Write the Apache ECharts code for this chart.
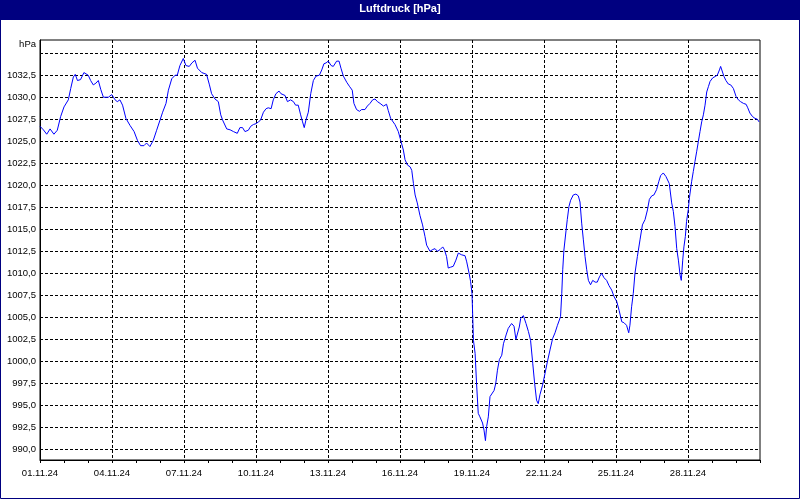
<!DOCTYPE html>
<html>
<head>
<meta charset="utf-8">
<title>Luftdruck [hPa]</title>
<script src="https://cdn.jsdelivr.net/npm/echarts@6/dist/echarts.min.js"></script>
<style>
    html, body { margin: 0; padding: 0; background: #fff; }
    #chart { width: 800px; height: 500px; }
</style>
</head>
<body>
<div id="chart"></div>
<script type="text/javascript">
// Zeitpunkt in Tagen ab 01.11.24 00:00
const days = [
    0.00, 0.14, 0.28, 0.42, 0.58, 0.72, 0.86, 1.00, 1.18, 1.28,
    1.39, 1.47, 1.56, 1.69, 1.83, 2.01, 2.11, 2.22, 2.33, 2.43,
    2.53, 2.64, 2.72, 2.85, 2.99, 3.13, 3.22, 3.33, 3.44, 3.58,
    3.75, 3.92, 4.06, 4.19, 4.33, 4.44, 4.58, 4.72, 4.86, 5.00,
    5.11, 5.25, 5.35, 5.49, 5.63, 5.72, 5.83, 5.97, 6.08, 6.22,
    6.33, 6.46, 6.56, 6.74, 6.94, 7.06, 7.15, 7.29, 7.43, 7.53,
    7.61, 7.78, 7.92, 8.06, 8.22, 8.33, 8.44, 8.54, 8.68, 8.78,
    8.89, 9.00, 9.10, 9.19, 9.31, 9.42, 9.51, 9.63, 9.72, 9.83,
    9.96, 10.04, 10.21, 10.31, 10.44, 10.56, 10.65, 10.76, 10.86, 10.94,
    11.01, 11.08, 11.18, 11.28, 11.39, 11.50, 11.64, 11.74, 11.83, 11.92,
    12.01, 12.13, 12.22, 12.29, 12.36, 12.46, 12.54, 12.64, 12.78, 12.89,
    13.01, 13.08, 13.19, 13.31, 13.40, 13.47, 13.54, 13.64, 13.75, 13.86,
    13.96, 14.06, 14.17, 14.31, 14.44, 14.51, 14.61, 14.79, 14.93, 15.03,
    15.14, 15.21, 15.31, 15.42, 15.49, 15.56, 15.63, 15.72, 15.83, 15.94,
    16.04, 16.11, 16.25, 16.36, 16.46, 16.56, 16.67, 16.78, 16.85, 16.94,
    17.01, 17.11, 17.22, 17.33, 17.43, 17.50, 17.57, 17.71, 17.78, 17.88,
    17.94, 18.00, 18.03, 18.06, 18.13, 18.19, 18.26, 18.33, 18.44, 18.50,
    18.56, 18.61, 18.68, 18.75, 18.82, 18.92, 18.99, 19.06, 19.14, 19.24,
    19.31, 19.42, 19.51, 19.58, 19.65, 19.75, 19.83, 19.89, 19.97, 20.03,
    20.14, 20.25, 20.35, 20.44, 20.53, 20.61, 20.69, 20.76, 20.83, 20.94,
    21.04, 21.14, 21.25, 21.36, 21.46, 21.56, 21.64, 21.69, 21.74, 21.78,
    21.83, 21.92, 21.97, 22.04, 22.11, 22.22, 22.33, 22.43, 22.50, 22.57,
    22.64, 22.71, 22.78, 22.85, 22.94, 23.03, 23.13, 23.22, 23.31, 23.40,
    23.50, 23.61, 23.71, 23.82, 23.92, 24.03, 24.13, 24.24, 24.33, 24.44,
    24.53, 24.58, 24.65, 24.72, 24.79, 24.89, 25.00, 25.10, 25.21, 25.31,
    25.39, 25.49, 25.58, 25.69, 25.78, 25.86, 25.97, 26.08, 26.22, 26.32,
    26.39, 26.46, 26.53, 26.60, 26.67, 26.72, 26.78, 26.83, 26.89, 26.94,
    27.01, 27.06, 27.15, 27.22, 27.29, 27.36, 27.43, 27.50, 27.57, 27.64,
    27.71, 27.78, 27.85, 27.92, 28.03, 28.13, 28.22, 28.31, 28.36, 28.44,
    28.50, 28.58, 28.68, 28.78, 28.89, 29.00, 29.10, 29.19, 29.31, 29.42,
    29.49, 29.58, 29.69, 29.79, 29.89, 29.96
];

const pressure = [
    1026.7, 1026.3, 1025.8, 1026.4, 1025.8, 1026.25, 1027.8, 1028.9, 1029.7, 1031.0,
    1032.3, 1032.6, 1031.9, 1032.0, 1032.8, 1032.5, 1031.9, 1031.4, 1031.6, 1031.9,
    1030.9, 1030.0, 1029.8, 1030.0, 1030.3, 1029.7, 1029.5, 1029.7, 1029.1, 1027.6,
    1026.8, 1026.1, 1025.1, 1024.5, 1024.5, 1024.8, 1024.4, 1025.1, 1026.25, 1027.4,
    1028.3, 1029.3, 1030.8, 1032.1, 1032.5, 1032.5, 1033.6, 1034.4, 1033.6, 1033.5,
    1033.9, 1034.2, 1033.3, 1032.8, 1032.6, 1031.4, 1030.4, 1029.8, 1029.5, 1028.0,
    1027.4, 1026.4, 1026.3, 1026.1, 1025.9, 1026.55, 1026.55, 1026.1, 1026.25, 1026.7,
    1026.9, 1027.0, 1027.2, 1027.4, 1028.3, 1028.7, 1028.8, 1028.7, 1029.7, 1030.4,
    1030.7, 1030.4, 1030.2, 1029.5, 1029.7, 1029.5, 1029.1, 1029.1, 1028.0, 1027.2,
    1026.55, 1027.4, 1028.3, 1030.4, 1031.9, 1032.4, 1032.5, 1033.1, 1033.8, 1033.9,
    1034.1, 1033.6, 1033.5, 1033.6, 1034.1, 1034.1, 1033.3, 1032.4, 1031.7, 1031.25,
    1030.8, 1029.3, 1028.6, 1028.4, 1028.6, 1028.8, 1028.6, 1029.0, 1029.3, 1029.7,
    1029.8, 1029.5, 1029.3, 1029.0, 1029.2, 1028.5, 1027.6, 1026.9, 1026.1, 1025.1,
    1024.0, 1022.9, 1022.3, 1022.1, 1021.7, 1020.2, 1018.9, 1018.0, 1016.6, 1015.5,
    1014.2, 1013.2, 1012.5, 1012.7, 1012.8, 1012.5, 1012.7, 1013.0, 1012.7, 1011.9,
    1010.6, 1010.7, 1010.8, 1011.5, 1012.3, 1012.5, 1012.1, 1012.0, 1011.3, 1010.0,
    1009.1, 1007.7, 1005.1, 1002.4, 1000.9, 997.5, 994.1, 993.7, 993.0, 992.2,
    991.0, 992.6, 993.7, 996.0, 996.2, 996.7, 997.5, 999.0, 1000.2, 1000.7,
    1002.0, 1003.0, 1003.75, 1003.6, 1004.3, 1004.0, 1002.5, 1002.4, 1003.9, 1004.9,
    1005.2, 1004.3, 1003.4, 1002.4, 999.8, 997.5, 995.6, 995.2, 996.2, 997.3,
    998.6, 999.95, 1001.3, 1002.6, 1003.25, 1004.1, 1004.7, 1005.1, 1007.7, 1010.4,
    1012.65, 1014.9, 1016.1, 1017.6, 1018.3, 1018.9, 1019.0, 1018.8, 1018.1, 1015.7,
    1013.8, 1011.9, 1010.4, 1009.2, 1008.7, 1009.2, 1009.0, 1009.0, 1009.6, 1010.0,
    1009.5, 1009.2, 1008.6, 1008.1, 1007.35, 1006.8, 1005.8, 1004.5, 1004.4, 1004.1,
    1003.25, 1004.1, 1006.2, 1007.7, 1010.0, 1011.9, 1013.8, 1015.5, 1016.1, 1017.2,
    1018.4, 1018.8, 1018.9, 1019.5, 1020.4, 1021.1, 1021.4, 1021.0, 1020.2, 1018.0,
    1017.0, 1015.3, 1012.8, 1011.5, 1009.8, 1009.2, 1011.5, 1013.0, 1014.2, 1015.9,
    1017.2, 1018.6, 1020.4, 1021.55, 1022.7, 1023.8, 1024.95, 1026.1, 1027.2, 1028.0,
    1029.1, 1030.6, 1031.2, 1031.8, 1032.2, 1032.35, 1032.5, 1033.1, 1033.5, 1033.6,
    1032.35, 1031.9, 1031.5, 1031.4, 1031.0, 1030.1, 1029.7, 1029.5, 1029.3, 1029.2,
    1028.8, 1028.2, 1027.8, 1027.6, 1027.5, 1027.2
];

// Beschriftung alle 3 Tage
const dayLabels = [
    '01.11.24', '04.11.24', '07.11.24', '10.11.24', '13.11.24',
    '16.11.24', '19.11.24', '22.11.24', '25.11.24', '28.11.24'
];

const FONT = 'Liberation Sans';
const NAVY = '#000080';

var chart = echarts.init(document.getElementById('chart'), null, { renderer: 'canvas' });

var option = {
    animation: false,
    backgroundColor: '#fff',
    title: {
        text: 'Luftdruck [hPa]',
        left: 'center',
        top: 3,
        padding: 0,
        textStyle: { color: '#fff', fontFamily: FONT, fontSize: 11, fontWeight: 'bold' }
    },
    graphic: [
        { type: 'rect', z: 0, shape: { x: 0, y: 0, width: 800, height: 20 }, style: { fill: NAVY } },
        { type: 'rect', z: 0, shape: { x: 0.5, y: 0.5, width: 799, height: 498 }, style: { fill: null, stroke: NAVY, lineWidth: 1 } }
    ],
    grid: {
        left: 40, right: 40, top: 40, bottom: 40,
        show: true,
        borderColor: '#000',
        borderWidth: 1,
        backgroundColor: 'transparent'
    },
    xAxis: {
        type: 'value',
        min: 0,
        max: 30,
        interval: 3,
        axisLine: { show: true, lineStyle: { color: '#000', width: 1 } },
        axisTick: { show: true, length: 3, lineStyle: { color: '#000' } },
        minorTick: { show: true, splitNumber: 3, length: 3, lineStyle: { color: '#000' } },
        axisLabel: {
            margin: 8,
            color: '#000',
            fontFamily: FONT,
            fontSize: 9.5,
            showMaxLabel: false,
            formatter: function (v) {
                return dayLabels[Math.round(v / 3)] || '';
            }
        },
        splitLine: {
            show: true, showMinLine: false, showMaxLine: false,
            lineStyle: { color: '#000', width: 1, type: [3, 2] }
        }
    },
    yAxis: {
        type: 'value',
        min: 988.8,
        max: 1036.5,
        minInterval: 2.5,
        maxInterval: 2.5,
        splitNumber: 19,
        name: 'hPa',
        nameLocation: 'end',
        nameGap: -4,
        nameTextStyle: {
            color: '#000', fontFamily: FONT, fontSize: 9.5,
            align: 'right', verticalAlign: 'middle', padding: [0, 4, 0, 0]
        },
        axisLine: { show: true, lineStyle: { color: '#000', width: 1 } },
        axisTick: { show: false },
        axisLabel: {
            margin: 4,
            color: '#000',
            fontFamily: FONT,
            fontSize: 9.5,
            showMinLabel: false,
            showMaxLabel: false,
            formatter: function (v) {
                if (v > 1033 || v < 989) return '';
                return v.toFixed(1).replace('.', ',');
            }
        },
        splitLine: {
            show: true, showMinLine: false, showMaxLine: false,
            lineStyle: { color: '#000', width: 1, type: [3, 2] }
        }
    },
    series: [{
        name: 'Luftdruck',
        type: 'line',
        symbol: 'none',
        showSymbol: false,
        lineStyle: { color: '#0000ff', width: 1 },
        data: days.map(function (d, i) { return [d, pressure[i]]; })
    }]
};

chart.setOption(option);
</script>
</body>
</html>
